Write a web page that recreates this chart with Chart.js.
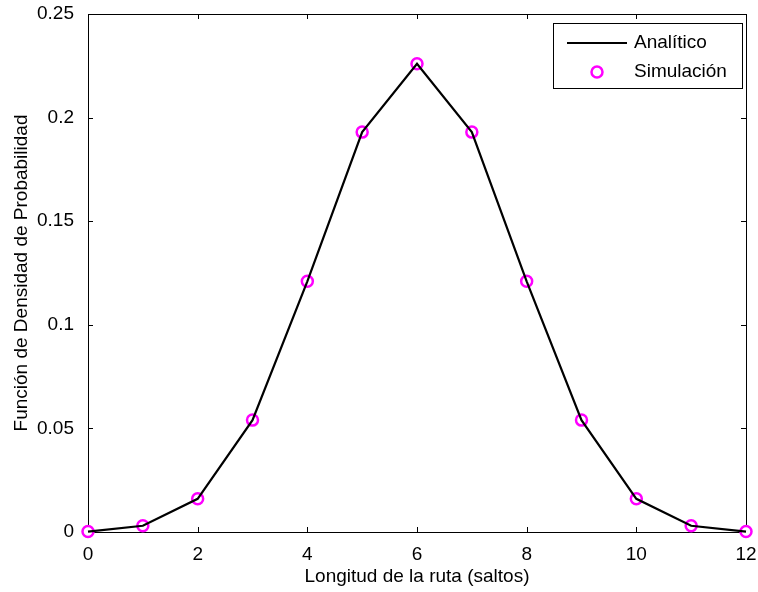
<!DOCTYPE html>
<html>
<head>
<meta charset="utf-8">
<script src="https://cdn.jsdelivr.net/npm/chart.js@4"></script>
<style>
  html, body { margin: 0; padding: 0; background: #fff; }
  #wrap { width: 758px; height: 592px; }
</style>
</head>
<body>
<div id="wrap"><canvas id="pdfChart"></canvas></div>
<script>
// longitud de la ruta en saltos
const hops = [0, 1, 2, 3, 4, 5, 6, 7, 8, 9, 10, 11, 12];
// curva analítica
const analytic = [0.0002, 0.003, 0.016, 0.054, 0.121, 0.193, 0.226, 0.193, 0.121, 0.054, 0.016, 0.003, 0.0002];
// resultados de la simulación
const simulated = [0.0002, 0.003, 0.016, 0.054, 0.121, 0.193, 0.226, 0.193, 0.121, 0.054, 0.016, 0.003, 0.0002];
const xTicks = [0, 2, 4, 6, 8, 10, 12];
const yTicks = [0, 0.05, 0.1, 0.15, 0.2, 0.25];

const FONT = 'Liberation Sans, Arial, sans-serif';
const FSIZE = 19;
const MAGENTA = '#ff00ff';

// caja de ejes con marcas hacia dentro, estilo matlab
const boxPlugin = {
  id: 'box',
  beforeDatasetsDraw(chart) {
    const { ctx, chartArea: a, scales } = chart;
    const len = 5;
    ctx.save();
    ctx.strokeStyle = '#000';
    ctx.lineWidth = 1;
    ctx.beginPath();
    xTicks.forEach(v => {
      const x = Math.round(scales.x.getPixelForValue(v)) + 0.5;
      ctx.moveTo(x, a.bottom); ctx.lineTo(x, a.bottom - len);
      ctx.moveTo(x, a.top); ctx.lineTo(x, a.top + len);
    });
    yTicks.forEach(v => {
      const y = Math.round(scales.y.getPixelForValue(v)) + 0.5;
      ctx.moveTo(a.left, y); ctx.lineTo(a.left + len, y);
      ctx.moveTo(a.right, y); ctx.lineTo(a.right - len, y);
    });
    ctx.stroke();
    ctx.strokeRect(Math.round(a.left) + 0.5, Math.round(a.top) + 0.5,
                   Math.round(a.right - a.left), Math.round(a.bottom - a.top));
    ctx.restore();
  },
  afterDraw(chart) {
    // leyenda en la esquina superior derecha
    const { ctx, chartArea: a } = chart;
    const w = 189, h = 65;
    const bx = a.right - 4 - w, by = a.top + 9;
    ctx.save();
    ctx.fillStyle = '#fff';
    ctx.fillRect(bx, by, w, h);
    ctx.strokeStyle = '#000';
    ctx.lineWidth = 1;
    ctx.strokeRect(Math.round(bx) + 0.5, Math.round(by) + 0.5, w, h);
    ctx.font = FSIZE + 'px ' + FONT;
    ctx.fillStyle = '#000';
    ctx.textBaseline = 'middle';
    const r1 = by + 20, r2 = by + 49;
    ctx.beginPath();
    ctx.lineWidth = 2;
    ctx.moveTo(bx + 14, r1); ctx.lineTo(bx + 74, r1);
    ctx.stroke();
    ctx.fillText(chart.data.datasets[0].label, bx + 81, r1);
    ctx.beginPath();
    ctx.arc(bx + 44, r2, 5.5, 0, Math.PI * 2);
    ctx.fillStyle = '#fff';
    ctx.fill();
    ctx.strokeStyle = MAGENTA;
    ctx.lineWidth = 2.5;
    ctx.stroke();
    ctx.fillStyle = '#000';
    ctx.fillText(chart.data.datasets[1].label, bx + 81, r2);
    ctx.restore();
  }
};

const ctx = document.getElementById('pdfChart').getContext('2d');
new Chart(ctx, {
  type: 'line',
  data: {
    datasets: [{
      label: 'Analítico',
      data: hops.map((h, i) => ({ x: h, y: analytic[i] })),
      borderColor: '#000',
      borderWidth: 2.2,
      pointRadius: 0,
      tension: 0,
      clip: false
    }, {
      label: 'Simulación',
      data: hops.map((h, i) => ({ x: h, y: simulated[i] })),
      showLine: false,
      pointRadius: 5.5,
      pointBorderWidth: 2.5,
      pointBorderColor: MAGENTA,
      pointBackgroundColor: '#fff',
      clip: false
    }]
  },
  options: {
    responsive: true,
    maintainAspectRatio: false,
    animation: false,
    layout: { padding: { left: 6, top: 14, right: 12, bottom: 0 } },
    plugins: { legend: { display: false }, tooltip: { enabled: false } },
    scales: {
      x: {
        type: 'linear',
        min: 0, max: 12,
        afterFit(scale) {
          scale.height = 60;
          scale.paddingLeft = 0;
          scale.paddingRight = 0;
        },
        afterBuildTicks(scale) { scale.ticks = xTicks.map(v => ({ value: v })); },
        grid: { display: false },
        border: { display: false },
        ticks: { color: '#000', padding: 3, font: { family: FONT, size: FSIZE } },
        title: {
          display: true,
          text: 'Longitud de la ruta (saltos)',
          color: '#000',
          padding: { top: 1 },
          font: { family: FONT, size: FSIZE }
        }
      },
      y: {
        min: 0, max: 0.25,
        afterFit(scale) {
          scale.width = 82;
          scale.paddingTop = 0;
          scale.paddingBottom = 0;
        },
        afterBuildTicks(scale) { scale.ticks = yTicks.map(v => ({ value: v })); },
        grid: { display: false },
        border: { display: false },
        ticks: {
          color: '#000', padding: 6,
          font: { family: FONT, size: FSIZE },
          callback: v => String(v)
        },
        title: {
          display: true,
          text: 'Función de Densidad de Probabilidad',
          color: '#000',
          padding: { bottom: 4 },
          font: { family: FONT, size: FSIZE }
        }
      }
    }
  },
  plugins: [boxPlugin]
});
</script>
</body>
</html>
